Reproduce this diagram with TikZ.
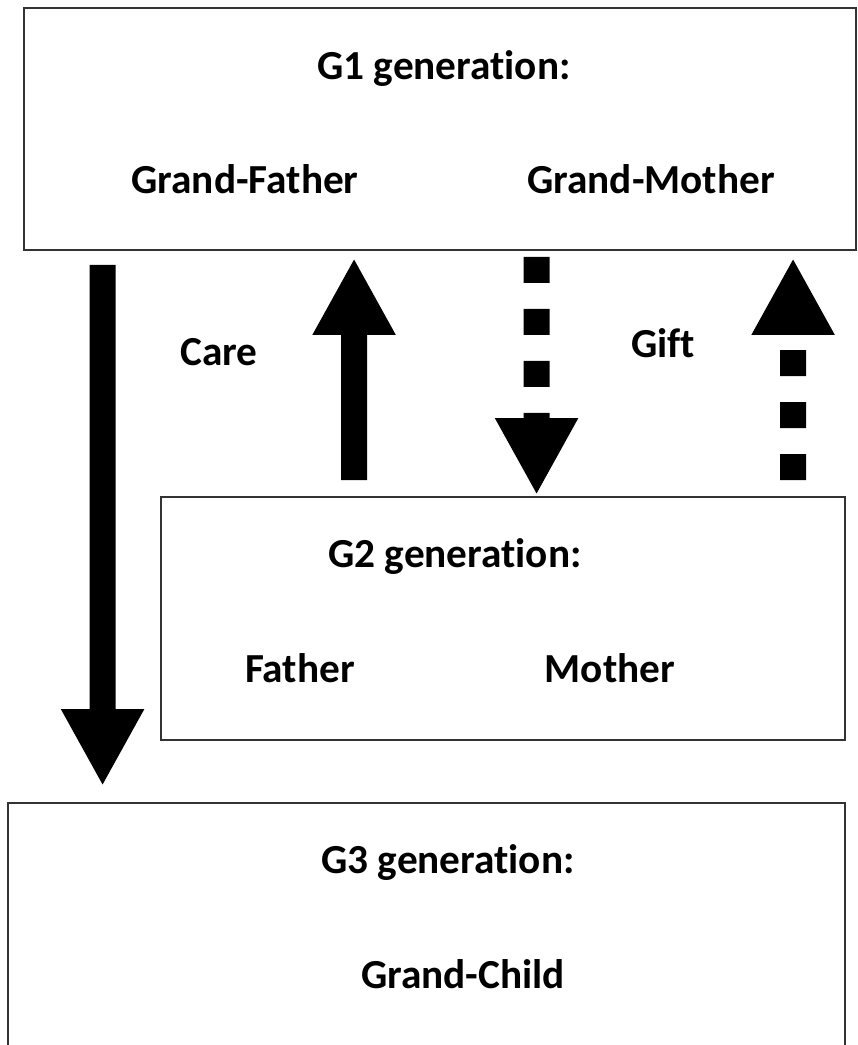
\documentclass[tikz,border=0pt]{standalone}
\usepackage{fontspec}
\setmainfont[Ligatures=NoCommon]{Carlito}
\usepackage{tikz}
\usetikzlibrary{arrows.meta, positioning, calc}
\definecolor{BoxLine}{HTML}{333333}

\begin{document}
\begin{tikzpicture}[
    x=0.02cm, y=-0.02cm,
    genbox/.style={
        rectangle,
        draw=BoxLine,
        line width=1.2pt,
        outer sep=0pt,
        inner sep=0pt
    },
    label/.style={font=\bfseries\fontsize{23.5}{28}\selectfont, anchor=base, inner sep=0pt},
    every edge/.style={draw=black, line width=0.52cm, -{Triangle[width=1.55cm, length=1.54cm]}},
    flow/.style={dash pattern=on 0.52cm off 0.52cm}
]
\useasboundingbox (0,0) rectangle (858,1045);
\clip (0,0) rectangle (858,1045);

% generation boxes
\node[genbox, minimum width=16.64cm, minimum height=4.84cm] (G1) at (440,129) {};
\node[genbox, minimum width=13.68cm, minimum height=4.86cm] (G2) at (503,618.5) {};
\node[genbox, minimum width=16.74cm, minimum height=5.6cm] (G3) at (426.5,943) {};

\node[label] (G1t) at (444,79) {G1 generation:};
\node[label] (GF) at (245,193) {Grand-Father};
\node[label] (GM) at (651,193) {Grand-Mother};
\node[label] (G2t) at (455,567) {G2 generation:};
\node[label] (F) at (300,682) {Father};
\node[label] (M) at (610,682) {Mother};
\node[label] (G3t) at (448,873) {G3 generation:};
\node[label] (GC) at (463,988) {Grand-Child};

\node[label] (care) at (219,365) {Care};
\node[label] (gift) at (663,357) {Gift};

% transfers between generations
\path ($(G1.south west)+(78.5,15)$) edge ($(G3.north west)+(94.5,-17)$);
\path ($(G2.north west)+(193,-17)$) edge ($(G1.south west)+(330,8)$);
\path ($(G1.south west)+(512.5,7)$) edge[flow] ($(G2.north west)+(375.5,-2)$);
\path ($(G2.north west)+(632,-17)$) edge[flow] ($(G1.south west)+(769,8)$);
\end{tikzpicture}
\end{document}
